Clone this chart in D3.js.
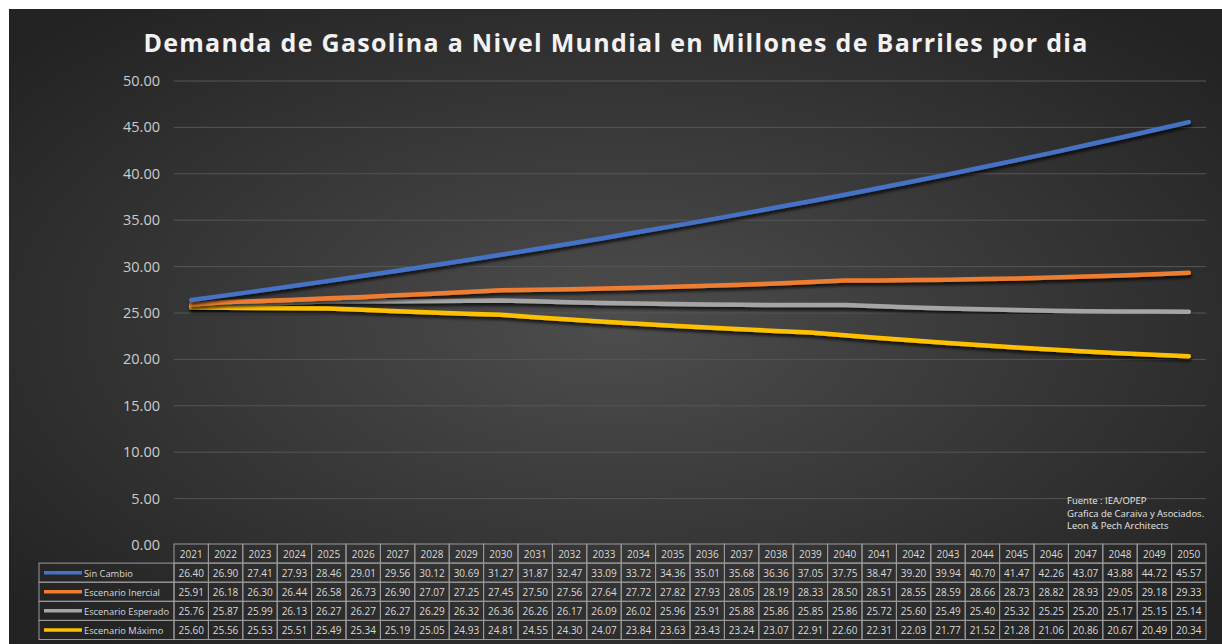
<!DOCTYPE html>
<html>
<head>
<meta charset="utf-8">
<script src="https://cdn.jsdelivr.net/npm/d3@7"></script>
<style>
  body { margin:0; background:#fff; }
  svg { display:block; }
</style>
</head>
<body>
<svg id="chart" width="1222" height="644"></svg>
<script>
// data
var years = [2021,2022,2023,2024,2025,2026,2027,2028,2029,2030,2031,2032,2033,2034,2035,2036,2037,2038,2039,2040,2041,2042,2043,2044,2045,2046,2047,2048,2049,2050];
var sinCambio = [26.40,26.90,27.41,27.93,28.46,29.01,29.56,30.12,30.69,31.27,31.87,32.47,33.09,33.72,34.36,35.01,35.68,36.36,37.05,37.75,38.47,39.20,39.94,40.70,41.47,42.26,43.07,43.88,44.72,45.57];
var inercial = [25.91,26.18,26.30,26.44,26.58,26.73,26.90,27.07,27.25,27.45,27.50,27.56,27.64,27.72,27.82,27.93,28.05,28.19,28.33,28.50,28.51,28.55,28.59,28.66,28.73,28.82,28.93,29.05,29.18,29.33];
var esperado = [25.76,25.87,25.99,26.13,26.27,26.27,26.27,26.29,26.32,26.36,26.26,26.17,26.09,26.02,25.96,25.91,25.88,25.86,25.85,25.86,25.72,25.60,25.49,25.40,25.32,25.25,25.20,25.17,25.15,25.14];
var maximo = [25.60,25.56,25.53,25.51,25.49,25.34,25.19,25.05,24.93,24.81,24.55,24.30,24.07,23.84,23.63,23.43,23.24,23.07,22.91,22.60,22.31,22.03,21.77,21.52,21.28,21.06,20.86,20.67,20.49,20.34];
var seriesNames = ["Sin Cambio", "Escenario Inercial", "Escenario Esperado", "Escenario Máximo"];
var seriesColors = ["#4472C4", "#ED7D31", "#A5A5A5", "#FFC000"];
var yTicks = [0,5,10,15,20,25,30,35,40,45,50];

var allSeries = [sinCambio, inercial, esperado, maximo];

var svg = d3.select("#chart");
var defs = svg.append("defs");

var grad = defs.append("radialGradient").attr("id", "bg")
  .attr("cx", "50%").attr("cy", "50%").attr("r", "65%");
grad.append("stop").attr("offset", "0%").attr("stop-color", "#4d4d4d");
grad.append("stop").attr("offset", "100%").attr("stop-color", "#232323");

var shadow = defs.append("filter").attr("id", "shadow")
  .attr("x", "-5%").attr("y", "-20%").attr("width", "110%").attr("height", "140%");
shadow.append("feDropShadow").attr("dx", 1).attr("dy", 3).attr("stdDeviation", 1.5)
  .attr("flood-color", "#000").attr("flood-opacity", 0.7);

svg.append("rect").attr("x", 9).attr("y", 9).attr("width", 1213).attr("height", 635)
  .attr("fill", "url(#bg)");

// title
svg.append("text")
  .attr("x", 616).attr("y", 52)
  .attr("text-anchor", "middle")
  .attr("font-family", "Open Sans, sans-serif")
  .attr("font-weight", "bold")
  .attr("font-size", 25)
  .attr("letter-spacing", 1.3)
  .attr("fill", "#f2f2f2")
  .text("Demanda de Gasolina a Nivel Mundial en Millones de Barriles por dia");

var left = 174, right = 1206;
var x = d3.scaleBand().domain(years).range([left, right]);
var y = d3.scaleLinear().domain([0, 50]).range([545, 81]);

// gridlines
svg.append("g").selectAll("line").data(yTicks.slice(1)).enter().append("line")
  .attr("x1", left).attr("x2", right)
  .attr("y1", function(d){ return y(d); }).attr("y2", function(d){ return y(d); })
  .attr("stroke", "#565656").attr("stroke-width", 1);

// y axis labels
svg.append("g").selectAll("text").data(yTicks).enter().append("text")
  .attr("x", 160).attr("y", function(d){ return y(d) + 5; })
  .attr("text-anchor", "end")
  .attr("font-family", "Open Sans, sans-serif")
  .attr("font-size", 14.5)
  .attr("fill", "#cccccc")
  .text(function(d){ return d.toFixed(2); });

// lines
var line = d3.line()
  .x(function(d, i){ return x(years[i]) + x.bandwidth()/2; })
  .y(function(d){ return y(d); });

var order = [2, 3, 1, 0];
order.forEach(function(k){
  svg.append("path").datum(allSeries[k])
    .attr("d", line)
    .attr("fill", "none")
    .attr("stroke", seriesColors[k])
    .attr("stroke-width", 4.5)
    .attr("stroke-linecap", "round")
    .attr("stroke-linejoin", "round")
    .attr("filter", "url(#shadow)");
});

// source note
var note = ["Fuente : IEA/OPEP", "Grafica de Caraiva y Asociados.", "Leon & Pech Architects"];
svg.append("g").selectAll("text").data(note).enter().append("text")
  .attr("x", 1067).attr("y", function(d, i){ return 504 + i*12.5; })
  .attr("font-family", "Open Sans, sans-serif")
  .attr("font-size", 9.5)
  .attr("fill", "#e6e6e6")
  .text(function(d){ return d; });

// data table
var rowTop = 544, rowH = 19.1;
var tableLeft = 39;
var tbl = svg.append("g");
var cellStroke = "#9a9a9a";

// header row
tbl.selectAll("rect.hd").data(years).enter().append("rect")
  .attr("x", function(d){ return x(d); }).attr("y", rowTop)
  .attr("width", x.bandwidth()).attr("height", rowH)
  .attr("fill", "none").attr("stroke", cellStroke);
tbl.selectAll("text.hd").data(years).enter().append("text")
  .attr("x", function(d){ return x(d) + x.bandwidth()/2; })
  .attr("y", rowTop + rowH/2 + 4)
  .attr("text-anchor", "middle")
  .attr("font-family", "Open Sans, sans-serif")
  .attr("font-size", 10)
  .attr("fill", "#d9d9d9")
  .text(function(d){ return d; });

allSeries.forEach(function(vals, k){
  var ry = rowTop + rowH*(k+1);
  tbl.append("rect").attr("x", tableLeft).attr("y", ry)
    .attr("width", left - tableLeft).attr("height", rowH)
    .attr("fill", "none").attr("stroke", cellStroke);
  tbl.append("line").attr("x1", 44).attr("x2", 82)
    .attr("y1", ry + rowH/2).attr("y2", ry + rowH/2)
    .attr("stroke", seriesColors[k]).attr("stroke-width", 3.5);
  tbl.append("text").attr("x", 84).attr("y", ry + rowH/2 + 4)
    .attr("font-family", "Open Sans, sans-serif")
    .attr("font-size", 9.3)
    .attr("fill", "#d9d9d9")
    .text(seriesNames[k]);
  tbl.append("g").selectAll("rect").data(vals).enter().append("rect")
    .attr("x", function(d, i){ return x(years[i]); }).attr("y", ry)
    .attr("width", x.bandwidth()).attr("height", rowH)
    .attr("fill", "none").attr("stroke", cellStroke);
  tbl.append("g").selectAll("text").data(vals).enter().append("text")
    .attr("x", function(d, i){ return x(years[i]) + x.bandwidth()/2; })
    .attr("y", ry + rowH/2 + 4)
    .attr("text-anchor", "middle")
    .attr("font-family", "Open Sans, sans-serif")
    .attr("font-size", 10)
    .attr("fill", "#d9d9d9")
    .text(function(d){ return d.toFixed(2); });
});
</script>
</body>
</html>
